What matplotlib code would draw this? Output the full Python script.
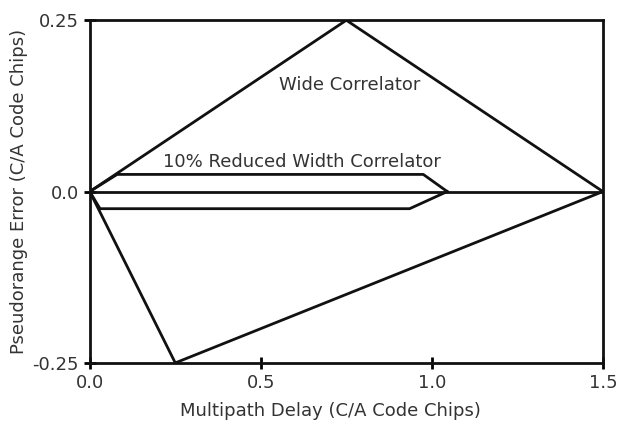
import numpy as np
import matplotlib
matplotlib.use("Agg")
import matplotlib.pyplot as plt

plt.rcParams['font.family'] = ['DejaVu Sans']

# wide correlator envelope (upper and lower)
wide_up_x = [0.0, 0.75, 1.5]
wide_up_y = [0.0, 0.25, 0.0]
wide_lo_x = [0.0, 0.25, 1.5]
wide_lo_y = [0.0, -0.25, 0.0]

# 10% reduced width correlator envelope
narrow_up_x = [0.0, 0.08, 0.975, 1.045]
narrow_up_y = [0.0, 0.025, 0.025, 0.0]
narrow_lo_x = [0.0, 0.03, 0.935, 1.045]
narrow_lo_y = [0.0, -0.025, -0.025, 0.0]

# zero line
zero_x = [0.0, 1.5]
zero_y = [0.0, 0.0]

xticks = [0.0, 0.5, 1.0, 1.5]
xlabels = ['0.0', '0.5', '1.0', '1.5']
yticks = [-0.25, 0.0, 0.25]
ylabels = ['-0.25', '0.0', '0.25']

fig = plt.figure(figsize=(6.19, 4.21), dpi=100)
ax = fig.add_axes([0.145, 0.138, 0.829, 0.814])

lc = '#111111'
tc = '#333333'
fs = 13
ax.plot(wide_up_x, wide_up_y, color=lc, lw=2)
ax.plot(wide_lo_x, wide_lo_y, color=lc, lw=2)
ax.plot(narrow_up_x, narrow_up_y, color=lc, lw=2)
ax.plot(narrow_lo_x, narrow_lo_y, color=lc, lw=2)
ax.plot(zero_x, zero_y, color=lc, lw=2)

ax.text(0.76, 0.155, 'Wide Correlator', ha='center', va='center', fontsize=fs, color=tc)
ax.text(0.62, 0.043, '10% Reduced Width Correlator', ha='center', va='center', fontsize=fs, color=tc)

ax.set_xlim(0, 1.5)
ax.set_ylim(-0.25, 0.25)
ax.set_xticks(xticks)
ax.set_xticklabels(xlabels)
ax.set_yticks(yticks)
ax.set_yticklabels(ylabels)
ax.tick_params(direction='inout', length=8, width=2, labelsize=fs, labelcolor=tc, pad=4)
for s in ax.spines.values():
    s.set_linewidth(2)
    s.set_color(lc)

ax.set_xlabel('Multipath Delay (C/A Code Chips)', fontsize=fs, color=tc)
ax.xaxis.set_label_coords(0.47, -0.115)
ax.set_ylabel('Pseudorange Error (C/A Code Chips)', fontsize=fs, color=tc, labelpad=3)

fig.savefig('out.png', dpi=100)
